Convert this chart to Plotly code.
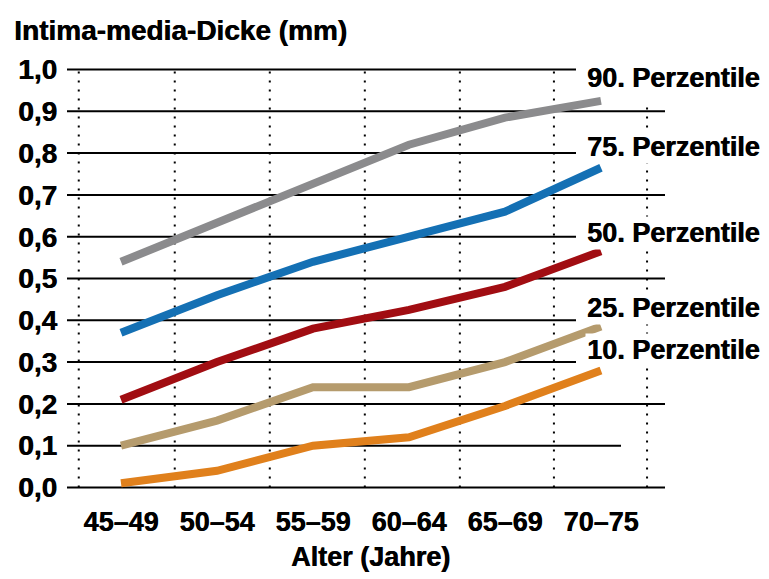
import plotly.graph_objects as go

categories = ["45–49", "50–54", "55–59", "60–64", "65–69", "70–75"]
p90 = [0.54, 0.635, 0.73, 0.82, 0.885, 0.925]
p75 = [0.37, 0.46, 0.54, 0.60, 0.66, 0.765]
p50 = [0.21, 0.30, 0.38, 0.425, 0.48, 0.565]
p25 = [0.10, 0.16, 0.24, 0.24, 0.30, 0.385]
p10 = [0.01, 0.04, 0.10, 0.12, 0.195, 0.28]
series_names = ["90. Perzentile", "75. Perzentile", "50. Perzentile", "25. Perzentile", "10. Perzentile"]
colors = ["#8b8b8d", "#1470b4", "#a10d12", "#b59b6d", "#e0801c"]
y_ticks = [0.0, 0.1, 0.2, 0.3, 0.4, 0.5, 0.6, 0.7, 0.8, 0.9, 1.0]
x_title = "Alter (Jahre)"
y_title = "Intima-media-Dicke (mm)"

FONT = "Liberation Sans, Arial, sans-serif"
SHADOW = "0.6px 0 0 black"
x_idx = list(range(len(categories)))

fig = go.Figure()
for name, vals, col in zip(series_names, [p90, p75, p50, p25, p10], colors):
    fig.add_trace(go.Scatter(x=x_idx, y=vals, mode="lines", name=name,
                             line=dict(color=col, width=8), showlegend=False,
                             hoverinfo="skip"))

shapes = []
long_end = 1.0
short_end = (576 - 67) / 598
mid_end = (621 - 67) / 598
ends = {0.0: long_end, 0.1: mid_end, 0.2: long_end, 0.3: short_end, 0.4: short_end,
        0.5: long_end, 0.6: short_end, 0.7: long_end, 0.8: short_end, 0.9: long_end,
        1.0: short_end}
for yv in y_ticks:
    shapes.append(dict(type="line", xref="paper", yref="y", x0=0, x1=ends[yv],
                       y0=yv, y1=yv, line=dict(color="black", width=2), layer="below"))
dot_x = [-0.44, 0.56, 1.55, 2.54, 3.53, 4.51, 5.48]
for i, xv in enumerate(dot_x):
    top = 0.92 if i == len(dot_x) - 1 else 1.0
    shapes.append(dict(type="line", xref="x", yref="y", x0=xv, x1=xv, y0=0, y1=top,
                       line=dict(color="black", width=2, dash="2px,7px"), layer="below"))

annotations = []
label_y = [0.98, 0.815, 0.61, 0.43, 0.33]
for name, ly in zip(series_names, label_y):
    annotations.append(dict(text="<b>" + name + "</b>", xref="paper", yref="y",
                            x=(585 - 67) / 598, y=ly, xanchor="left", yanchor="middle",
                            showarrow=False,
                            font=dict(family=FONT, size=27, color="black", shadow=SHADOW),
                            bgcolor="white", borderpad=1))
annotations.append(dict(text="<b>" + x_title + "</b>", xref="paper", yref="paper",
                        x=(370 - 67) / 598, y=-(557 - 500) / 443, xanchor="center",
                        yanchor="middle", showarrow=False,
                        font=dict(family=FONT, size=27, color="black", shadow=SHADOW)))

fig.update_layout(
    width=769, height=579,
    margin=dict(l=67, r=104, t=57, b=79),
    paper_bgcolor="white", plot_bgcolor="white",
    title=dict(text="<b>" + y_title + "</b>", x=14 / 769, xref="container",
               xanchor="left", y=1 - 30 / 579, yref="container", yanchor="middle",
               font=dict(family=FONT, size=28, color="black", shadow=SHADOW)),
    xaxis=dict(range=[-0.5625, 5.667], tickmode="array", tickvals=x_idx,
               ticktext=["<b>" + c + "</b>" for c in categories],
               showgrid=False, zeroline=False, showline=False, ticks="",
               ticklabelstandoff=3, automargin=False,
               tickfont=dict(family=FONT, size=27, color="black", shadow=SHADOW)),
    yaxis=dict(range=[-0.03, 1.03], tickmode="array", tickvals=y_ticks,
               ticktext=["<b>" + f"{v:.1f}".replace(".", ",") + "</b>" for v in y_ticks],
               showgrid=False, zeroline=False, showline=False, ticks="",
               ticklabelstandoff=9, automargin=False,
               tickfont=dict(family=FONT, size=28, color="black", shadow=SHADOW)),
    shapes=shapes, annotations=annotations,
)

fig.write_html("out.html", config={"displayModeBar": False},
               post_script="document.body.style.margin='0';document.body.style.padding='0';")
